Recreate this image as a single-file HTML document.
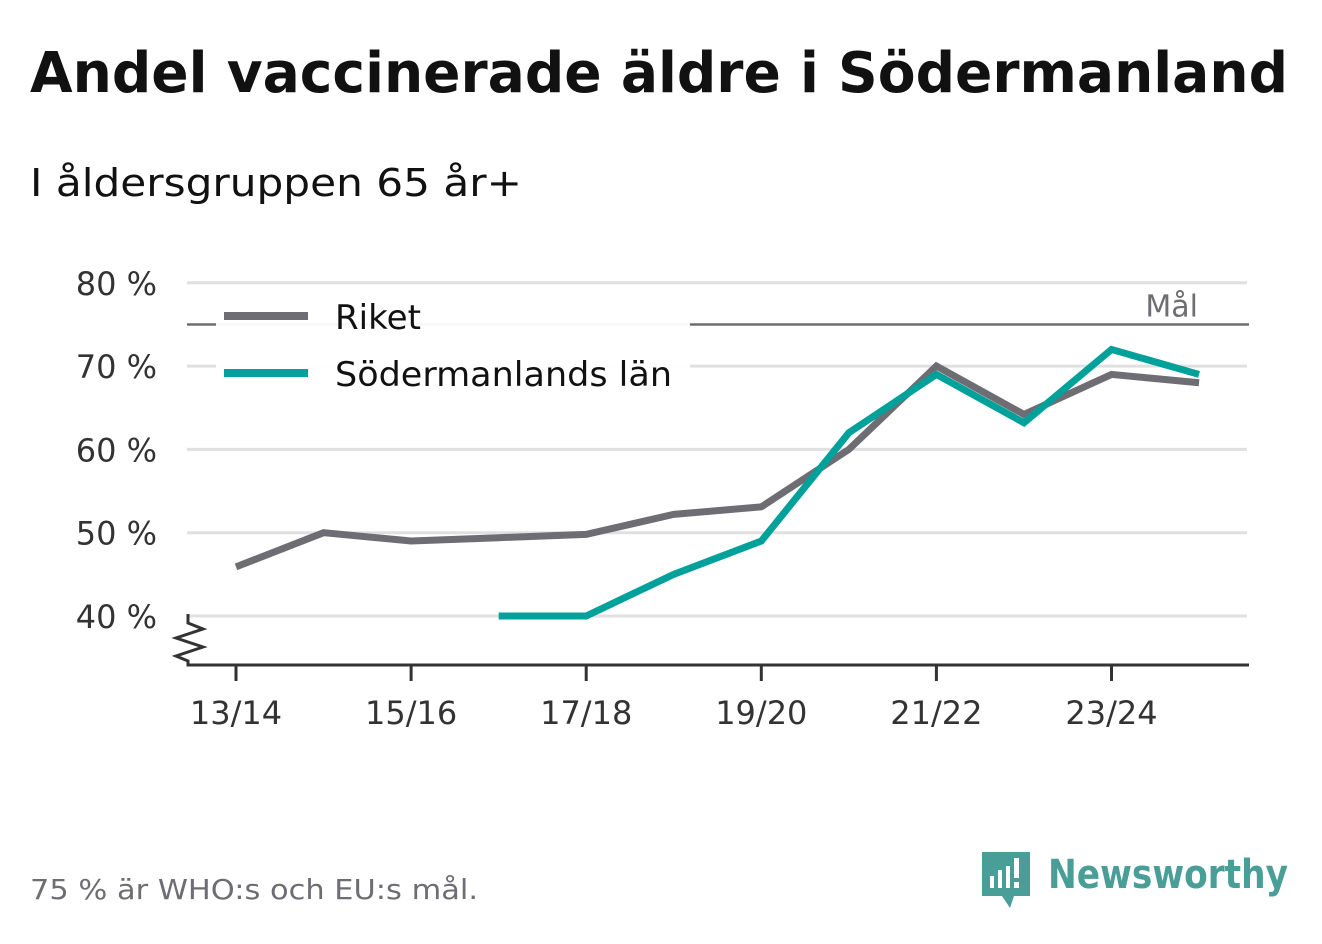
<!DOCTYPE html>
<html><head><meta charset="utf-8"><style>
body{margin:0;background:#fff;font-family:"Liberation Sans",sans-serif;}
svg text{font-family:"DejaVu Sans","Liberation Sans",sans-serif;}
</style></head><body>
<svg width="1322" height="939" viewBox="0 0 1322 939" xmlns="http://www.w3.org/2000/svg">
<rect width="1322" height="939" fill="#fff"/>
<text x="30" y="92" font-size="56" font-weight="bold" fill="#111" textLength="1258" lengthAdjust="spacingAndGlyphs">Andel vaccinerade äldre i Södermanland</text>
<text x="30" y="196" font-size="38" fill="#111" textLength="492" lengthAdjust="spacingAndGlyphs">I åldersgruppen 65 år+</text>
<g id="grid"></g>
<g id="goal"></g>
<g id="series"></g>
<g id="axes"></g>
<g>
<rect x="216" y="285" width="474" height="112" fill="#fff" fill-opacity="0.95"/>
<line x1="224" y1="316" x2="308" y2="316" stroke="#6e6d73" stroke-width="8"/>
<text x="335" y="329" font-size="34" fill="#111" textLength="86" lengthAdjust="spacingAndGlyphs">Riket</text>
<line x1="224" y1="373" x2="308" y2="373" stroke="#00a19a" stroke-width="8"/>
<text x="335" y="386" font-size="34" fill="#111" textLength="337" lengthAdjust="spacingAndGlyphs">Södermanlands län</text>
</g>
<text x="30" y="899" font-size="28" fill="#6e6d73" textLength="448" lengthAdjust="spacingAndGlyphs">75 % är WHO:s och EU:s mål.</text>
<g>
<path d="M982 852 h48 v44 h-16 l-4 12 l-8 -12 h-20 z" fill="#4a9e98"/>
<rect x="990" y="876" width="4" height="12" fill="#fff"/><rect x="998" y="870" width="4" height="18" fill="#fff"/><rect x="1006" y="866" width="4" height="22" fill="#fff"/><rect x="1014" y="858" width="5" height="20" fill="#fff"/><rect x="1014" y="882" width="5" height="6" fill="#fff"/>
<text x="1048" y="888" font-size="40" font-weight="bold" fill="#4a9e98" textLength="240" lengthAdjust="spacingAndGlyphs">Newsworthy</text>
</g>
</svg>
<script>
const seasons=["13/14","14/15","15/16","16/17","17/18","18/19","19/20","20/21","21/22","22/23","23/24","24/25"];
const tickLabels=["13/14","15/16","17/18","19/20","21/22","23/24"];
const yTicks=[40,50,60,70,80];
const riket=[45.9,50,49,49.4,49.8,52.2,53.1,60,70,64.2,69,68];
const sodermanland=[null,null,null,40,40,45,49,62,69,63.2,72,69];
const goal=[75];
const NS="http://www.w3.org/2000/svg";
function x(i){return 236+i*87.55;}
function y(v){return 616-(v-40)*8.33;}
function mk(t,a,p){const e=document.createElementNS(NS,t);for(const k in a)e.setAttribute(k,a[k]);p.appendChild(e);return e;}
const grid=document.getElementById('grid');
yTicks.forEach(v=>{
 const l=mk('line',{x1:187,x2:1247,y1:y(v),y2:y(v),stroke:'#e0e0e0','stroke-width':3},grid);
 
 
 const t=mk('text',{x:157,y:y(v)+12,'font-size':32,fill:'#333','text-anchor':'end'},grid);
 t.textContent=v+' %';
 
 
});
const g=document.getElementById('goal');
const gl=mk('line',{x1:187,x2:1249,y1:y(goal[0]),y2:y(goal[0]),stroke:'#6e6d73','stroke-width':2.5},g);


const gt=mk('text',{x:1198,y:y(goal[0])-8,'font-size':30,fill:'#6e6d73','text-anchor':'end'},g);
gt.textContent='Mål';


const s=document.getElementById('series');
function line(arr,col,name){let d='';arr.forEach((v,i)=>{if(v==null)return;d+=(d?'L':'M')+x(i)+' '+y(v)+' ';});
 const p=mk('path',{d:d,fill:'none',stroke:col,'stroke-width':7,'stroke-linejoin':'miter'},s);
 
 }
line(riket,'#6e6d73','line-riket');
line(sodermanland,'#00a19a','line-sodermanland');
const ax=document.getElementById('axes');
const base=mk('path',{d:'M188 614 v9 l15 6 l-27 9 l27 9 l-27 9 l12 5 v4 H1249',fill:'none',stroke:'#333','stroke-width':3,'stroke-linejoin':'miter'},ax);


seasons.forEach((s2,i)=>{
 if(!tickLabels.includes(s2))return;
 const tk=mk('line',{x1:x(i),x2:x(i),y1:665,y2:681,stroke:'#333','stroke-width':3},ax);
 
 
 const t=mk('text',{x:x(i),y:724,'font-size':32,fill:'#333','text-anchor':'middle'},ax);
 t.textContent=s2;
 
 
});
</script>
</body></html>
